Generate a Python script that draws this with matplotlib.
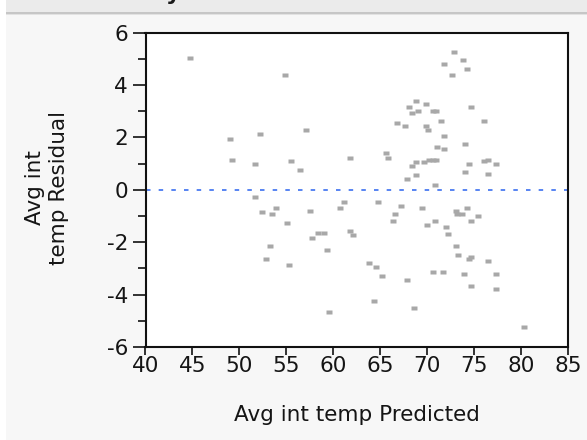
import matplotlib
matplotlib.use("Agg")
import matplotlib.pyplot as plt
from matplotlib.patches import Rectangle
from matplotlib.ticker import FixedLocator

plt.rcParams["axes.unicode_minus"] = False
plt.rcParams["font.family"] = ["DejaVu Sans"]

# Predicted vs residual values for the fitted model
predicted = [
    44.71, 54.86, 49.00, 52.16, 49.21, 51.69, 55.53, 51.69, 52.37, 53.93,
    53.50, 55.10, 53.26, 52.80, 55.31, 57.09, 61.81, 56.42, 57.55, 57.76,
    58.37, 59.01, 59.36, 59.54, 60.68, 61.14, 61.81, 62.07,
    64.73, 67.21, 69.48, 66.57, 66.33, 69.95, 63.83, 64.55, 65.22, 67.88,
    64.30, 68.56, 65.64, 65.86, 66.75, 67.67, 68.09, 68.35, 69.02, 68.78,
    69.90, 69.87, 70.09, 68.35, 68.78, 69.69, 70.16, 67.88, 68.78,
    72.89, 73.78, 71.76, 74.21, 72.64, 74.66, 70.62, 70.94, 71.50, 76.02,
    71.76, 71.04, 71.76, 73.99, 70.59, 70.94, 74.45, 76.02, 76.44, 77.36,
    73.99, 76.44, 70.83, 73.07, 73.17, 73.76, 74.19, 70.83, 74.66, 75.38,
    71.97, 72.18, 73.07, 73.31, 74.45, 74.66, 76.44, 70.59, 71.71, 73.95,
    77.36, 74.66, 77.36, 80.31,
]
residual = [
    5.03, 4.38, 1.95, 2.12, 1.15, 0.99, 1.08, -0.29, -0.86, -0.70,
    -0.94, -1.27, -2.16, -2.64, -2.88, 2.29, 1.23, 0.75, -0.80, -1.83,
    -1.66, -1.66, -2.31, -4.65, -0.70, -0.46, -1.59, -1.74,
    -0.46, -0.62, -0.70, -0.94, -1.18, -1.34, -2.79, -2.96, -3.28, -3.44,
    -4.26, -4.50, 1.40, 1.23, 2.53, 2.45, 3.17, 2.92, 3.01, 3.40,
    3.26, 2.45, 2.29, 0.91, 1.07, 1.07, 1.14, 0.42, 0.58,
    5.27, 4.95, 4.79, 4.62, 4.38, 3.17, 3.01, 3.01, 2.62, 2.62,
    2.05, 1.64, 1.56, 1.73, 1.15, 1.15, 0.99, 1.08, 1.15, 0.99,
    0.67, 0.60, 0.19, -0.80, -0.93, -0.93, -0.70, -1.18, -1.18, -1.02,
    -1.42, -1.68, -2.16, -2.48, -2.63, -2.55, -2.72, -3.12, -3.12, -3.20,
    -3.20, -3.68, -3.77, -5.22,
]

x_ticks = [40, 45, 50, 55, 60, 65, 70, 75, 80, 85]
y_ticks = [-6, -4, -2, 0, 2, 4, 6]
y_minor = [-5, -3, -1, 1, 3, 5]

x_label = "Avg int temp Predicted"
y_label = "Avg int\ntemp Residual"
header = "Residual by Predicted Plot"

W, H = 587, 440
fig = plt.figure(figsize=(W / 100, H / 100), dpi=100, facecolor="#f7f7f7")


def band(x0, y0, w, h, color):
    """Filled rectangle in pixel units measured from the top-left corner."""
    fig.patches.append(Rectangle((x0 / W, 1 - (y0 + h) / H), w / W, h / H,
                                 transform=fig.transFigure, facecolor=color,
                                 edgecolor="none", zorder=0))


# window chrome: header strip, its rule, and the left margin
band(0, 0, W, 12.5, "#ebebeb")
band(0, 12.5, W, 2.0, "#c6c6c6")
band(0, 14.5, W, 1.0, "#e2e2e2")
band(0, 0, 6, H, "#ffffff")
fig.text(35 / W, 1.0, header, fontsize=16, fontweight="bold",
         color="#1a1a1a", ha="left", va="baseline")

left, right, top, bottom = 145.5, 568.0, 32.5, 347.0
ax = fig.add_axes([left / W, 1 - bottom / H, (right - left) / W, (bottom - top) / H])
ax.set_facecolor("white")

marker_shape = [(-1, -0.68), (1, -0.68), (1, 0.68), (-1, 0.68)]
ax.plot(predicted, residual, ls="none", marker=marker_shape, ms=3.9,
        color="#a8a8a8", mec="none", zorder=3)

ax.axhline(0, color="#3b70f0", lw=1.2, dashes=(2.7, 4.9), zorder=2)

ax.set_xlim(40, 85)
ax.set_ylim(-6, 6)
ax.xaxis.set_major_locator(FixedLocator(x_ticks))
ax.yaxis.set_major_locator(FixedLocator(y_ticks))
ax.yaxis.set_minor_locator(FixedLocator(y_minor))
ax.set_xticklabels([str(v) for v in x_ticks])
ax.set_yticklabels([str(v) for v in y_ticks])

for s in ax.spines.values():
    s.set_color("#111111")
    s.set_linewidth(1.5)

ax.tick_params(axis="x", which="major", length=5.5, width=1.2, color="#111111",
               labelsize=15.5, labelcolor="#151515", pad=1.2)
ax.tick_params(axis="y", which="major", length=9.5, width=1.2, color="#111111",
               labelsize=15.5, labelcolor="#151515", pad=3)
ax.tick_params(axis="y", which="minor", length=5.8, width=1.2, color="#111111")

fig.text((left + right) / 2 / W, 1 - 415 / H, x_label, fontsize=15.5,
         color="#151515", ha="center", va="center")
fig.text(47 / W, 1 - 188 / H, y_label, fontsize=15.5, color="#151515",
         rotation=90, ha="center", va="center", multialignment="center",
         linespacing=1.3)

fig.savefig("out.png", dpi=100, facecolor=fig.get_facecolor())
